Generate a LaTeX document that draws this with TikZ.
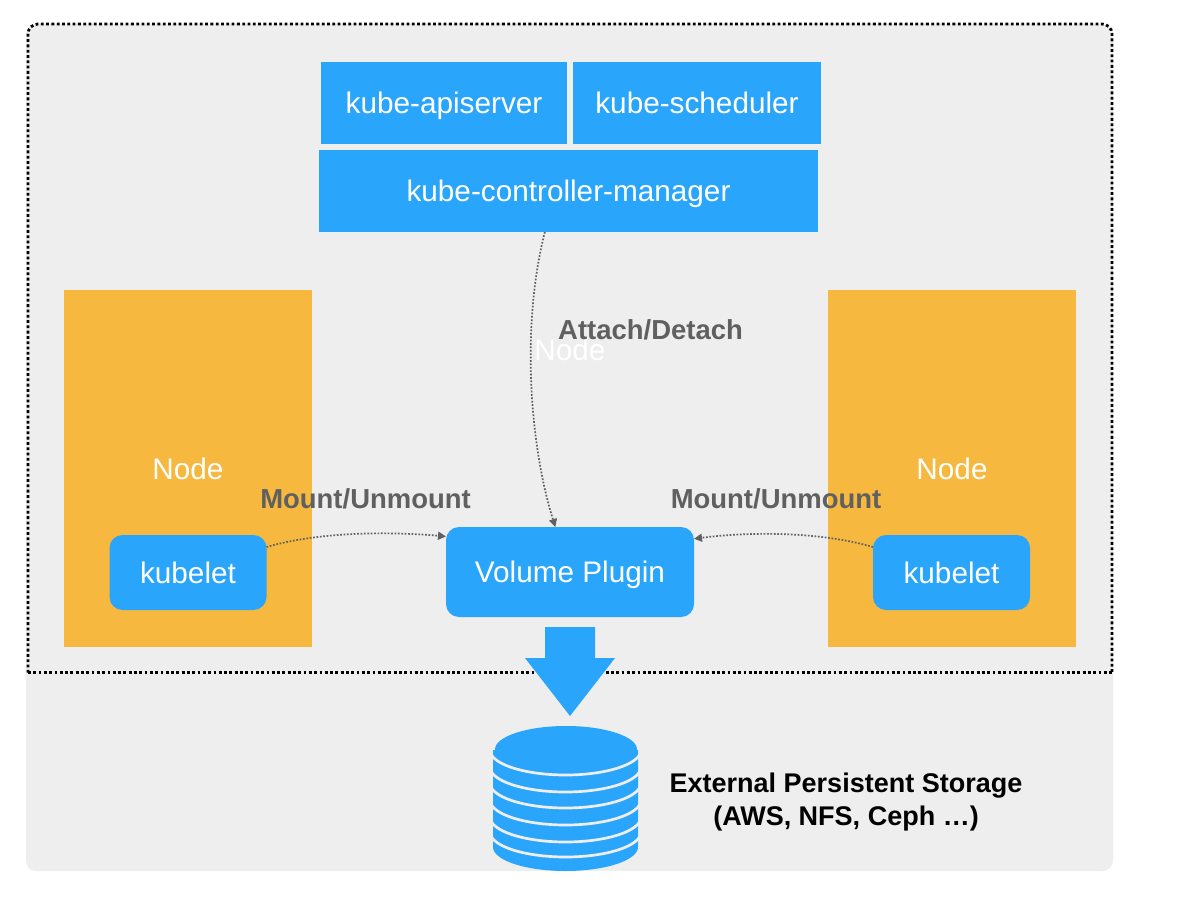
\documentclass[tikz,border=0pt]{standalone}
\usepackage{fontspec}
\setmainfont{Liberation Sans}
\usetikzlibrary{arrows.meta}
\definecolor{kblue}{HTML}{2AA5FC}
\definecolor{korange}{HTML}{F6B83F}
\definecolor{kpanel}{HTML}{EEEEEE}
\definecolor{kgray}{HTML}{606060}
\def\px{0.75pt}
\tikzset{
  x=\px,y=-\px,
  boxtext/.style={text=white,text height=16pt,text depth=0pt,font=\fontsize{22.3}{26}\selectfont},
  bluebox/.style={fill=kblue,boxtext,inner sep=0,outer sep=0},
  orangebox/.style={fill=korange,boxtext,inner sep=0,outer sep=0,minimum width=248*\px,minimum height=357*\px},
  roundbox/.style={bluebox,rounded corners=13*\px},
  linklabel/.style={text=kgray,inner sep=0,font=\bfseries\fontsize{20.6}{24}\selectfont},
  storelabel/.style={text=black,inner sep=0,font=\bfseries\fontsize{20.25}{24}\selectfont},
  link/.style={draw=kgray,line width=1.7*\px,dash pattern=on 1.7*\px off 1.7*\px,-{Triangle[length=8*\px,width=8*\px,fill=kgray]}},
  clusterline/.style={draw=black,line width=2.8*\px,dash pattern=on 2.8*\px off 2.5*\px},
}
\begin{document}
\begin{tikzpicture}
\useasboundingbox (0,0) rectangle (1180,919);
% panel
\node[fill=kpanel,rounded corners=10*\px,inner sep=0,minimum width=1087*\px,minimum height=847*\px] (panel) at (569.5,447.5) {};
\draw[clusterline,rounded corners=10*\px] (28,672.7) -- (28,24) -- (1112,24) -- (1112,672.7);
\draw[clusterline] (28,672.7) -- (1112,672.7);
% control plane
\node[bluebox,minimum width=246*\px,minimum height=82*\px] (api) at (444,103) {kube-apiserver};
\node[bluebox,minimum width=248*\px,minimum height=82*\px] (sched) at (697,103) {kube-scheduler};
\node[bluebox,minimum width=499*\px,minimum height=82*\px] (kcm) at (568.5,191) {kube-controller-manager};
% worker nodes
\node[orangebox] (nodeL) at (188,468.5) {Node};
\node[orangebox] (nodeR) at (952,468.5) {Node};
\node[roundbox,minimum width=157*\px,minimum height=75*\px] (kubeL) at (188,572.5) {kubelet};
\node[roundbox,minimum width=157*\px,minimum height=75*\px] (kubeR) at (951.5,572.5) {kubelet};
\node[roundbox,minimum width=248*\px,minimum height=90*\px] (plugin) at (570,572) {Volume Plugin};
% connectors
\draw[link] (kcm.240) .. controls (520,330) and (531,450) .. (plugin.108);
\draw[link] (kubeL.18) .. controls (320,531.5) and (390,531.5) .. (plugin.164.7);
\draw[link] (kubeR.162) .. controls (820,531.5) and (750,531.5) .. (plugin.15.3);
% labels
\node[boxtext,inner sep=0] (stray) at (570,349.5) {Node};
\node[linklabel] (attach) at (650.5,330) {Attach/Detach};
\node[linklabel] (mountL) at (365.5,499) {Mount/Unmount};
\node[linklabel] (mountR) at (776,499) {Mount/Unmount};
% big arrow
\fill[kblue] (545,627) -- (595,627) -- (595,658) -- (615,658) -- (570,716) -- (525,658) -- (545,658) -- cycle;
% storage
\fill[kblue] (493,750) -- (493,847) arc[start angle=180,end angle=0,x radius=72.5,y radius=24] -- (638,750) -- cycle;
\foreach \yy in {750,767,783,800,817,832}{
  \draw[kpanel,line width=2.7*\px] (490,\yy) arc[start angle=180,end angle=0,x radius=75.5,y radius=25];
}
\fill[kpanel] (485,720) rectangle (645,750);
\fill[kblue] (566,749.5) ellipse[x radius=71,y radius=23.5];
\node[storelabel] (ext1) at (846,785.5) {External Persistent Storage};
\node[storelabel] (ext2) at (846,818.5) {(AWS, NFS, Ceph …)};
\end{tikzpicture}
\end{document}
